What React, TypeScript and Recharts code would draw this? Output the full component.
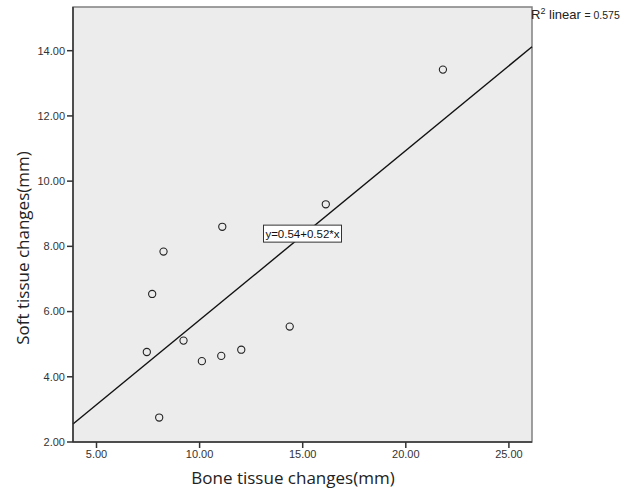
import {
  ScatterChart,
  Scatter,
  XAxis,
  YAxis,
  ReferenceArea,
  ReferenceLine,
  ReferenceDot,
} from 'recharts';

// values
const boneChange = [21.8, 16.12, 11.1, 8.25, 7.7, 7.44, 9.22, 10.11, 11.05, 12.02, 14.37, 8.04];
const softChange = [13.42, 9.29, 8.6, 7.84, 6.54, 4.76, 5.11, 4.48, 4.64, 4.83, 5.54, 2.75];
const xTicks = [5, 10, 15, 20, 25];
const yTicks = [2, 4, 6, 8, 10, 12, 14];
const xDomain = [3.86, 26.12];
const yDomain = [2, 15.34];
const fitLine = [
  { x: 3.86, y: 2.55 },
  { x: 26.12, y: 14.12 },
];
const fitEquation = 'y=0.54+0.52*x';
const fitLabelAt = { x: 14.99, y: 8.39 };
const rSquared = '0.575';

const points = boneChange.map((x, i) => ({ x, y: softChange[i] }));

const tickStyle = { fontSize: 11, fill: '#333', fontFamily: '"Liberation Sans", Arial, sans-serif' };
const titleFont = '"Open Sans", "Noto Sans", sans-serif';

function OpenCircle(props: any) {
  const { cx, cy } = props;
  return <circle cx={cx} cy={cy} r={3.6} fill="none" stroke="#222" strokeWidth={1.1} />;
}

function EquationBox(props: any) {
  const { cx, cy } = props;
  return (
    <g>
      <rect x={cx - 39} y={cy - 8.5} width={78} height={17} fill="#fff" stroke="#333" strokeWidth={1} />
      <text
        x={cx}
        y={cy + 4}
        textAnchor="middle"
        fontSize={11.5}
        fill="#111"
        fontFamily='"Liberation Sans Narrow", "Liberation Sans", Arial, sans-serif'
      >
        {fitEquation}
      </text>
    </g>
  );
}

export default function App() {
  return (
    <div style={{ position: 'absolute', left: 0, top: 0, width: 627, height: 491, background: '#fff' }}>
      <ScatterChart width={627} height={491} margin={{ top: 7, right: 95, bottom: 19, left: 23 }}>
        <ReferenceArea
          x1={xDomain[0]}
          x2={xDomain[1]}
          y1={yDomain[0]}
          y2={yDomain[1]}
          fill="#ececec"
          fillOpacity={1}
          stroke="#808080"
          strokeWidth={1.5}
          ifOverflow="visible"
        />
        <XAxis
          type="number"
          dataKey="x"
          domain={xDomain}
          ticks={xTicks}
          tickFormatter={(v: number) => v.toFixed(2)}
          height={30}
          tickSize={6}
          tick={tickStyle}
          axisLine={{ stroke: '#333', strokeWidth: 1.5 }}
          tickLine={{ stroke: '#333', strokeWidth: 1.5 }}
        />
        <YAxis
          type="number"
          dataKey="y"
          domain={yDomain}
          ticks={yTicks}
          tickFormatter={(v: number) => v.toFixed(2)}
          width={50}
          tickSize={6}
          tick={tickStyle}
          axisLine={{ stroke: '#333', strokeWidth: 1.5 }}
          tickLine={{ stroke: '#333', strokeWidth: 1.5 }}
        />
        <ReferenceLine segment={fitLine} stroke="#111" strokeWidth={1.4} ifOverflow="visible" />
        <Scatter data={points} shape={OpenCircle} isAnimationActive={false} />
        <ReferenceDot x={fitLabelAt.x} y={fitLabelAt.y} shape={EquationBox} ifOverflow="visible" />
      </ScatterChart>
      <div
        style={{
          position: 'absolute',
          left: 531,
          top: 6,
          fontFamily: '"Liberation Sans", Arial, sans-serif',
          fontSize: 13,
          color: '#222',
          whiteSpace: 'nowrap',
        }}
      >
        R<sup style={{ fontSize: 9 }}>2</sup> linear <span style={{ fontSize: 10.5 }}>= {rSquared}</span>
      </div>
      <div
        style={{
          position: 'absolute',
          left: 93,
          width: 400,
          top: 466,
          textAlign: 'center',
          fontFamily: titleFont,
          fontSize: 17,
          color: '#222',
        }}
      >
        Bone tissue changes(mm)
      </div>
      <div
        style={{
          position: 'absolute',
          left: 23 - 200,
          width: 400,
          top: 248 - 12,
          textAlign: 'center',
          fontFamily: titleFont,
          fontSize: 17,
          color: '#222',
          transform: 'rotate(-90deg)',
          transformOrigin: '200px 12px',
        }}
      >
        Soft tissue changes(mm)
      </div>
    </div>
  );
}
